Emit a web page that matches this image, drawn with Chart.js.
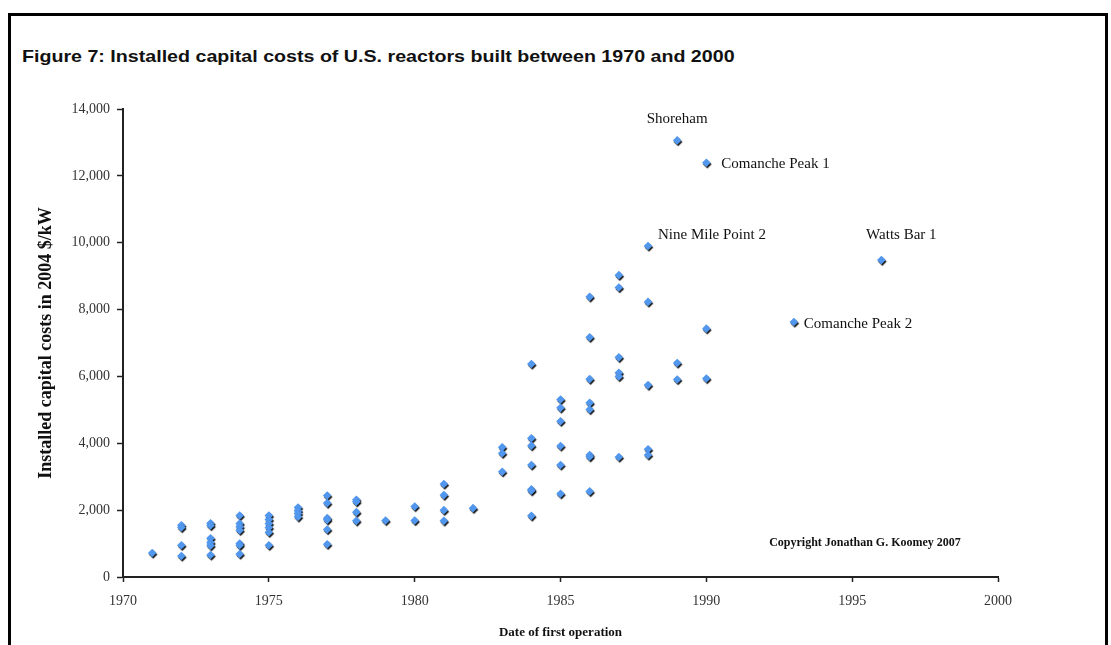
<!DOCTYPE html>
<html>
<head>
<meta charset="utf-8">
<script src="https://cdn.jsdelivr.net/npm/chart.js@4.4.1/dist/chart.umd.min.js"></script>
<style>
  html, body { margin: 0; padding: 0; background: #fff; }
  #wrap { position: relative; width: 1111px; height: 645px; overflow: hidden; }
  #frame { position: absolute; left: 8px; top: 13px; width: 1094px; height: 700px; border: 3px solid #000; }
  #title { position: absolute; left: 22px; top: 47px; margin: 0; font: bold 17px "Liberation Sans", Arial, sans-serif; color: #111; white-space: nowrap; transform: scaleX(1.155); transform-origin: left center; }
  canvas { position: absolute; left: 0; top: 0; }
</style>
</head>
<body>
<div id="wrap">
  <div id="frame"></div>
  <p id="title">Figure 7: Installed capital costs of U.S. reactors built between 1970 and 2000</p>
  <canvas id="costChart" width="1111" height="645"></canvas>
</div>
<script>
// ====== Data ======
const years = [
  1971,
  1972, 1972, 1972, 1972,
  1973, 1973, 1973, 1973, 1973, 1973,
  1974, 1974, 1974, 1974, 1974, 1974, 1974,
  1975, 1975, 1975, 1975, 1975, 1975,
  1976, 1976, 1976, 1976,
  1977, 1977, 1977, 1977, 1977, 1977,
  1978, 1978, 1978, 1978,
  1979,
  1980, 1980,
  1981, 1981, 1981, 1981,
  1982,
  1983, 1983, 1983,
  1984, 1984, 1984, 1984, 1984, 1984, 1984,
  1985, 1985, 1985, 1985, 1985, 1985,
  1986, 1986, 1986, 1986, 1986, 1986, 1986, 1986,
  1987, 1987, 1987, 1987, 1987, 1987,
  1988, 1988, 1988, 1988, 1988,
  1989, 1989, 1989,
  1990, 1990, 1990,
  1993,
  1996
];
const costs = [
  720,
  1550, 1480, 950, 630,
  1610, 1540, 1160, 1030, 940, 660,
  1840, 1600, 1500, 1400, 1000, 950, 690,
  1840, 1720, 1600, 1480, 1340, 950,
  2080, 1980, 1900, 1800,
  2440, 2210, 1760, 1710, 1420, 980,
  2310, 2250, 1940, 1680,
  1690,
  2110, 1690,
  2780, 2450, 2000, 1680,
  2060,
  3880, 3700, 3150,
  6370, 4150, 3930, 3350, 2620, 2580, 1830,
  5310, 5060, 4660, 3920, 3350, 2490,
  8380, 7170, 5920, 5210, 5010, 3650, 3600, 2560,
  9030, 8660, 6570, 6110, 6000, 3590,
  9900, 8230, 5740, 3820, 3650,
  13060, 6400, 5910,
  12390, 7430, 5940,
  7630,
  9480
];

// named plants
const plantNames = ["Shoreham", "Comanche Peak 1", "Nine Mile Point 2", "Watts Bar 1", "Comanche Peak 2"];
const plantYears = [1989, 1990, 1988, 1996, 1993];
const plantCosts = [13060, 12390, 9900, 9480, 7630];
// label placement relative to the point: [dx, dy, align]
const plantLabelPos = [[0, -21, "center"], [15, 1, "left"], [10, -11, "left"], [20, -25, "center"], [10, 2, "left"]];

const yTicks = [0, 2000, 4000, 6000, 8000, 10000, 12000, 14000];
const xTicks = [1970, 1975, 1980, 1985, 1990, 1995, 2000];

const points = years.map((y, i) => ({ x: y, y: costs[i] }));

// ====== Plugins ======
const markerShadow = {
  id: "markerShadow",
  beforeDatasetsDraw(chart) {
    const ctx = chart.ctx;
    ctx.save();
    ctx.shadowColor = "rgba(0,0,0,0.9)";
    ctx.shadowOffsetX = 1;
    ctx.shadowOffsetY = 1.5;
    ctx.shadowBlur = 1;
  },
  afterDatasetsDraw(chart) {
    chart.ctx.restore();
  }
};

const plantLabels = {
  id: "plantLabels",
  afterDraw(chart) {
    const ctx = chart.ctx;
    const xs = chart.scales.x, ys = chart.scales.y;
    ctx.save();
    ctx.fillStyle = "#111";
    ctx.font = '15px "Liberation Serif", "Times New Roman", serif';
    ctx.textBaseline = "middle";
    plantNames.forEach((name, i) => {
      const [dx, dy, align] = plantLabelPos[i];
      ctx.textAlign = align;
      ctx.fillText(name, xs.getPixelForValue(plantYears[i]) + dx, ys.getPixelForValue(plantCosts[i]) + dy);
    });
    // copyright note
    ctx.font = 'bold 12px "Liberation Serif", "Times New Roman", serif';
    ctx.textAlign = "center";
    ctx.fillText("Copyright Jonathan G. Koomey 2007", chart.chartArea.right - 133, chart.chartArea.bottom - 34);
    ctx.restore();
  }
};

// ====== Chart ======
new Chart(document.getElementById("costChart"), {
  type: "scatter",
  data: {
    datasets: [
      {
        label: "Reactors",
        data: points,
        pointStyle: "rectRot",
        pointRadius: 4.3,
        pointHoverRadius: 4.3,
        pointBorderWidth: 0,
        backgroundColor: "#5197ee",
        borderColor: "#5197ee",
      },
    ],
  },
  options: {
    responsive: false,
    animation: false,
    events: [],
    layout: { padding: { top: 109, right: 113, bottom: 0, left: 0 } },
    plugins: { legend: { display: false }, tooltip: { enabled: false } },
    scales: {
      x: {
        type: "linear",
        min: 1970,
        max: 2000,
        afterFit: (s) => { s.height = 68; },
        afterBuildTicks: (s) => { s.ticks = xTicks.map((v) => ({ value: v })); },
        ticks: {
          callback: (v) => String(v),
          color: "#333",
          padding: 11,
          maxRotation: 0,
          font: { family: '"Liberation Serif", "Times New Roman", serif', size: 14 },
        },
        grid: { drawOnChartArea: false, tickLength: 5, tickColor: "#222", tickWidth: 1.5 },
        border: { color: "#222", width: 2 },
        title: {
          display: true,
          text: "Date of first operation",
          color: "#111",
          padding: { top: 0, bottom: 5 },
          font: { family: '"Liberation Serif", "Times New Roman", serif', size: 13, weight: "bold" },
        },
      },
      y: {
        min: 0,
        max: 14000,
        afterFit: (s) => { s.width = 123; },
        afterBuildTicks: (s) => { s.ticks = yTicks.map((v) => ({ value: v })); },
        ticks: {
          callback: (v) => v.toLocaleString("en-US"),
          color: "#333",
          padding: 7,
          font: { family: '"Liberation Serif", "Times New Roman", serif', size: 14 },
        },
        grid: { drawOnChartArea: false, tickLength: 6, tickColor: "#222", tickWidth: 1.5 },
        border: { color: "#222", width: 2 },
        title: {
          display: true,
          text: "Installed capital costs in 2004 $/kW",
          color: "#111",
          padding: { top: 36, bottom: 0 },
          font: { family: '"Liberation Serif", "Times New Roman", serif', size: 18, weight: "bold" },
        },
      },
    },
  },
  plugins: [markerShadow, plantLabels],
});
</script>
</body>
</html>
